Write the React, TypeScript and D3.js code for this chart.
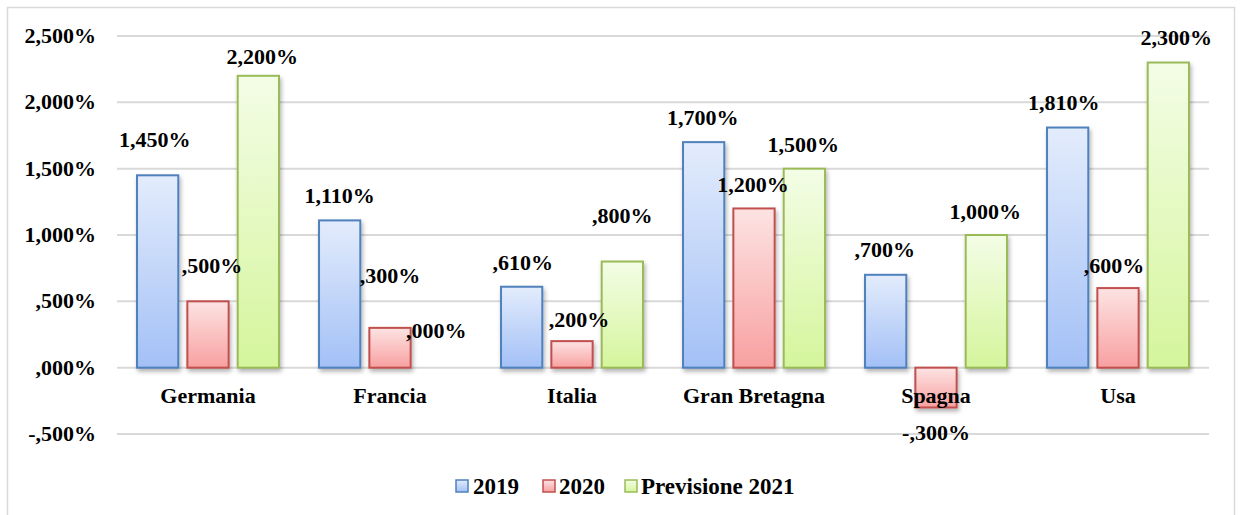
import React from "react";
import * as d3 from "d3";

const categories = ["Germania", "Francia", "Italia", "Gran Bretagna", "Spagna", "Usa"];
const seriesNames = ["2019", "2020", "Previsione 2021"];
const values2019 = [1.45, 1.11, 0.61, 1.7, 0.7, 1.81];
const values2020 = [0.5, 0.3, 0.2, 1.2, -0.3, 0.6];
const values2021 = [2.2, 0.0, 0.8, 1.5, 1.0, 2.3];
const yTicks = [-0.5, 0, 0.5, 1, 1.5, 2, 2.5];

// layout-only label nudges [dx, extra dy upward] per series / category
const labelNudge2019 = [[-3, 11], [0, 0], [1, 0], [-1, 0], [-1, 1], [-4, 1]];
const labelNudge2020 = [[4, 11], [0, 28], [7, -3], [-1, -1], [0, 0], [-4, -2]];
const labelNudge2021 = [[4, -5], [-4, 13], [0, 22], [-1, 0], [-1, -1], [8, 1]];

const W = 1242;
const H = 515;
const FONT = "Liberation Serif, serif";

const fmt = (v: number) => {
  const s = Math.abs(v).toFixed(3).replace(".", ",");
  const t = s.startsWith("0,") ? s.slice(1) : s;
  return (v < 0 ? "-" : "") + t + "%";
};

const colors = [
  { stroke: "#4f81bd", top: "#e3ecfc", bottom: "#a3c0f6" },
  { stroke: "#c0504d", top: "#fde3e3", bottom: "#f8a0a0" },
  { stroke: "#9bbb59", top: "#f3fde6", bottom: "#d5f59c" },
];

const txt: React.CSSProperties = { fontFamily: FONT, fontWeight: 700, fontSize: 22 };
const legTxt: React.CSSProperties = { fontFamily: FONT, fontWeight: 700, fontSize: 23 };

export default function App() {
  const y = d3.scaleLinear().domain([-0.5, 2.5]).range([434, 36]);
  const x = d3.scaleBand<string>().domain(categories).range([117, 1209]).paddingInner(0.22).paddingOuter(0.11);
  const xs = d3.scaleBand<string>().domain(seriesNames).range([0, x.bandwidth()]).paddingInner(0.18).paddingOuter(0);
  const series = [values2019, values2020, values2021];
  const nudges = [labelNudge2019, labelNudge2020, labelNudge2021];

  return (
    <svg width={W} height={H} style={{ position: "absolute", left: 0, top: 0, display: "block" }}>
      <defs>
        {colors.map((c, i) => (
          <linearGradient key={i} id={`g${i}`} x1="0" y1="0" x2="0" y2="1">
            <stop offset="0" stopColor={c.top} />
            <stop offset="1" stopColor={c.bottom} />
          </linearGradient>
        ))}
        <filter id="sh" x="-20%" y="-20%" width="150%" height="150%">
          <feDropShadow dx="1.5" dy="3" stdDeviation="2" floodColor="#000" floodOpacity="0.3" />
        </filter>
      </defs>
      <rect x={0} y={0} width={W} height={H} fill="#fff" />
      <rect x={7.5} y={7.5} width={1227} height={520} fill="#fff" stroke="#d9d9d9" strokeWidth={1.5} />
      {yTicks.map((t) => (
        <g key={t}>
          <line x1={117} x2={1209} y1={y(t)} y2={y(t)} stroke="#d9d9d9" strokeWidth={2} />
          <text x={96} y={y(t) + 7} textAnchor="end" style={txt} fill="#000">
            {fmt(t)}
          </text>
        </g>
      ))}
      {series.map((vals, si) =>
        categories.map((c, ci) => {
          const v = vals[ci];
          const bx = (x(c) as number) + (xs(seriesNames[si]) as number);
          const bw = xs.bandwidth();
          const y0 = y(0);
          const yv = y(v);
          const top = Math.min(y0, yv);
          const h = Math.abs(yv - y0);
          if (h < 0.5) return null;
          return (
            <rect key={`${si}-${ci}`} x={bx} y={top} width={bw} height={h} fill={`url(#g${si})`} stroke={colors[si].stroke} strokeWidth={2} filter="url(#sh)" />
          );
        })
      )}
      {categories.map((c) => (
        <text key={c} x={(x(c) as number) + x.bandwidth() / 2} y={403} textAnchor="middle" style={txt} fill="#000">
          {c}
        </text>
      ))}
      {series.map((vals, si) =>
        categories.map((c, ci) => {
          const v = vals[ci];
          const bx = (x(c) as number) + (xs(seriesNames[si]) as number) + xs.bandwidth() / 2;
          const [dx, dy] = nudges[si][ci];
          const ly = v >= 0 ? y(v) - 17 - dy : y(v) + 33 + dy;
          return (
            <text key={`l${si}-${ci}`} x={bx + dx} y={ly} textAnchor="middle" style={txt} fill="#000">
              {fmt(v)}
            </text>
          );
        })
      )}
      {(() => {
        const items = [
          { x: 456, tx: 473 },
          { x: 543, tx: 559 },
          { x: 625, tx: 641 },
        ];
        return seriesNames.map((s, i) => (
          <g key={s}>
            <rect x={items[i].x} y={480} width={12} height={12} fill={`url(#g${i})`} stroke={colors[i].stroke} strokeWidth={1.5} />
            <text x={items[i].tx} y={494} style={legTxt} fill="#000">
              {s}
            </text>
          </g>
        ));
      })()}
    </svg>
  );
}
